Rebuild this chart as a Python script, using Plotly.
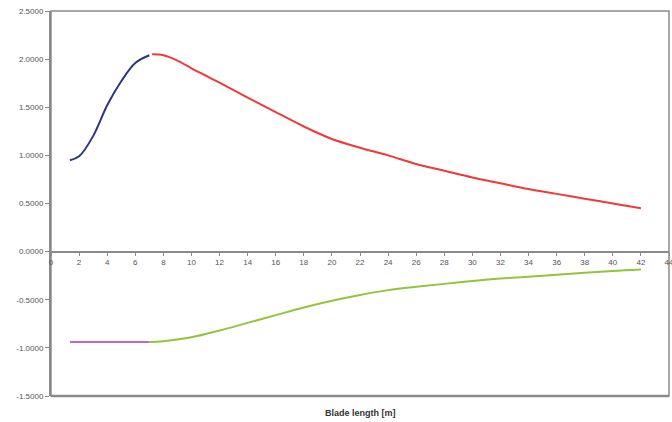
import plotly.graph_objects as go

# Data
blue_x = [1.35, 2, 3, 4, 5, 6, 7]
blue_y = [0.95, 0.99, 1.20, 1.52, 1.77, 1.96, 2.04]

red_x = [7.2, 8, 9, 10, 11, 12, 14, 16, 18, 20, 22, 24, 26, 28, 30, 32, 34, 36, 38, 40, 42]
red_y = [2.05, 2.04, 1.985, 1.905, 1.83, 1.755, 1.60, 1.45, 1.30, 1.17, 1.08, 1.00, 0.91, 0.84,
         0.77, 0.71, 0.65, 0.60, 0.55, 0.50, 0.45]

magenta_x = [1.35, 3, 5, 7]
magenta_y = [-0.94, -0.94, -0.94, -0.94]

green_x = [7, 8, 10, 12, 14, 16, 18, 20, 22, 24, 26, 28, 30, 32, 34, 36, 38, 40, 42]
green_y = [-0.94, -0.93, -0.89, -0.82, -0.74, -0.66, -0.58, -0.51, -0.45, -0.40, -0.365,
           -0.335, -0.305, -0.28, -0.26, -0.24, -0.22, -0.20, -0.185]

x_ticks = list(range(0, 46, 2))
y_ticks = [2.5, 2.0, 1.5, 1.0, 0.5, 0.0, -0.5, -1.0, -1.5]
x_title = "Blade length [m]"

fig = go.Figure()
for xs, ys, col in [(blue_x, blue_y, "#2e3580"), (red_x, red_y, "#f03a3a"),
                    (magenta_x, magenta_y, "#c467c4"), (green_x, green_y, "#93c43c")]:
    fig.add_trace(go.Scatter(x=xs, y=ys, mode="lines",
                             line=dict(color=col, width=2, shape="spline"),
                             showlegend=False, hoverinfo="skip"))

grey = "#8a8a8a"
fig.update_layout(
    width=672, height=422,
    margin=dict(l=51, r=3, t=11, b=26),
    paper_bgcolor="white", plot_bgcolor="white",
    font=dict(family="Liberation Sans, Arial, sans-serif", size=8, color="#555555"),
    xaxis=dict(range=[0, 44], tickvals=x_ticks, ticktext=[str(v) for v in x_ticks],
               anchor="free", position=1.5 / 4.0, automargin=False, ticklabeloverflow="allow",
               showgrid=False, zeroline=False, showline=True, linecolor=grey, linewidth=2,
               ticks="outside", ticklen=3, tickcolor=grey, tickfont=dict(size=8)),
    yaxis=dict(range=[-1.5, 2.5], tickvals=y_ticks, ticktext=["%.4f" % v for v in y_ticks],
               automargin=False,
               showgrid=False, zeroline=False, showline=True, linecolor=grey, linewidth=2,
               ticks="outside", ticklen=4, tickcolor=grey, tickfont=dict(size=8)),
    shapes=[dict(type="rect", xref="paper", yref="paper", x0=0, x1=1, y0=0, y1=1,
                 line=dict(color=grey, width=1.5), layer="below"),
            dict(type="line", xref="paper", yref="paper", x0=0, x1=1, y0=0, y1=0,
                 line=dict(color=grey, width=2.5))],
    annotations=[dict(text="<b>" + x_title + "</b>", xref="paper", yref="paper",
                      x=0.5, y=0, yanchor="middle", yshift=-17, showarrow=False,
                      font=dict(size=9, color="#333333"))],
)

fig.write_html("out.html", config={"displayModeBar": False},
               post_script="document.body.style.margin='0';document.body.style.overflow='hidden';")
